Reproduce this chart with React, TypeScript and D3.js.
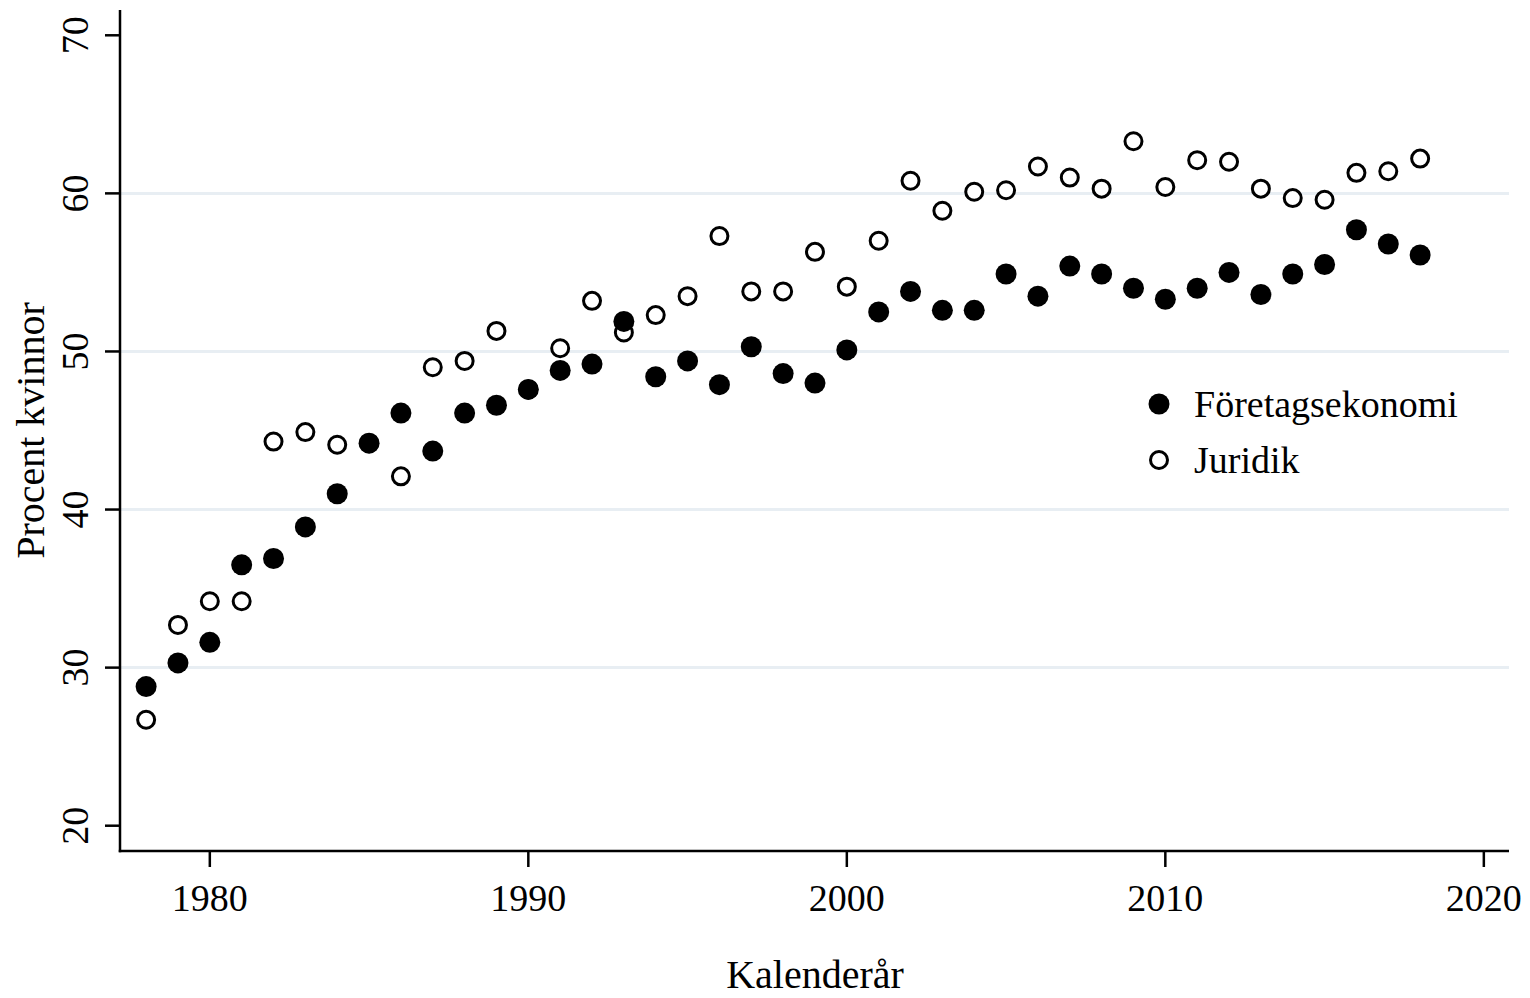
import React from "react";
import * as d3 from "d3";

const years: number[] = [
  1978, 1979, 1980, 1981, 1982, 1983, 1984, 1985, 1986, 1987, 1988, 1989, 1990,
  1991, 1992, 1993, 1994, 1995, 1996, 1997, 1998, 1999, 2000, 2001, 2002, 2003,
  2004, 2005, 2006, 2007, 2008, 2009, 2010, 2011, 2012, 2013, 2014, 2015, 2016,
  2017, 2018,
];

const foretagsekonomi: number[] = [
  28.8, 30.3, 31.6, 36.5, 36.9, 38.9, 41.0, 44.2, 46.1, 43.7, 46.1, 46.6, 47.6,
  48.8, 49.2, 51.9, 48.4, 49.4, 47.9, 50.3, 48.6, 48.0, 50.1, 52.5, 53.8, 52.6,
  52.6, 54.9, 53.5, 55.4, 54.9, 54.0, 53.3, 54.0, 55.0, 53.6, 54.9, 55.5, 57.7,
  56.8, 56.1,
];

const juridik: number[] = [
  26.7, 32.7, 34.2, 34.2, 44.3, 44.9, 44.1, 44.2, 42.1, 49.0, 49.4, 51.3, 47.6,
  50.2, 53.2, 51.2, 52.3, 53.5, 57.3, 53.8, 53.8, 56.3, 54.1, 57.0, 60.8, 58.9,
  60.1, 60.2, 61.7, 61.0, 60.3, 63.3, 60.4, 62.1, 62.0, 60.3, 59.7, 59.6, 61.3,
  61.4, 62.2,
];

const seriesNames: string[] = ["Företagsekonomi", "Juridik"];
const xTicks: number[] = [1980, 1990, 2000, 2010, 2020];
const yTicks: number[] = [20, 30, 40, 50, 60, 70];
const gridValues: number[] = [30, 40, 50, 60];
const xTitle = "Kalenderår";
const yTitle = "Procent kvinnor";

const W = 1530;
const H = 998;
const FONT = "'Liberation Serif', 'Times New Roman', serif";

export default function App() {
  const left = 120;
  const right = 1509;
  const top = 10;
  const bottom = 851;

  const x = d3.scaleLinear().domain([1977.18, 2020.79]).range([left, right]);
  const y = d3.scaleLinear().domain([18.4, 71.6]).range([bottom, top]);

  const rFilled = 10.5;
  const rHollow = 8.5;

  return (
    <svg
      width={W}
      height={H}
      style={{ position: "absolute", left: 0, top: 0, background: "#fff" }}
      fontFamily={FONT}
    >
      <rect x={0} y={0} width={W} height={H} fill="#fff" />
      {/* gridlines */}
      {gridValues.map((v) => (
        <line
          key={"g" + v}
          x1={left}
          x2={right}
          y1={y(v)}
          y2={y(v)}
          stroke="#e8eef3"
          strokeWidth={3}
        />
      ))}

      {/* axes */}
      <line x1={left} x2={left} y1={top} y2={bottom + 1.25} stroke="#000" strokeWidth={2.5} />
      <line x1={left - 1.25} x2={right} y1={bottom} y2={bottom} stroke="#000" strokeWidth={2.5} />

      {yTicks.map((v) => (
        <g key={"yt" + v}>
          <line x1={left - 15} x2={left} y1={y(v)} y2={y(v)} stroke="#000" strokeWidth={2.5} />
          <text
            transform={`translate(88,${y(v)}) rotate(-90)`}
            textAnchor="middle"
            fontSize={38}
            fill="#000"
          >
            {v}
          </text>
        </g>
      ))}

      {xTicks.map((v) => (
        <g key={"xt" + v}>
          <line x1={x(v)} x2={x(v)} y1={bottom} y2={bottom + 16} stroke="#000" strokeWidth={2.5} />
          <text x={x(v)} y={911} textAnchor="middle" fontSize={38} fill="#000">
            {v}
          </text>
        </g>
      ))}

      <text
        transform={`translate(44,${(top + bottom) / 2}) rotate(-90)`}
        textAnchor="middle"
        fontSize={40}
        fill="#000"
      >
        {yTitle}
      </text>
      <text x={815} y={988} textAnchor="middle" fontSize={40} fill="#000">
        {xTitle}
      </text>

      {/* Juridik (hollow) drawn first */}
      {years.map((yr, i) => (
        <circle
          key={"j" + yr}
          cx={x(yr)}
          cy={y(juridik[i])}
          r={rHollow}
          fill="#fff"
          stroke="#000"
          strokeWidth={3}
        />
      ))}
      {/* Företagsekonomi (filled) */}
      {years.map((yr, i) => (
        <circle key={"f" + yr} cx={x(yr)} cy={y(foretagsekonomi[i])} r={rFilled} fill="#000" />
      ))}

      {/* legend */}
      {seriesNames.map((name, i) => {
        const cy = 404 + i * 56;
        return (
          <g key={"lg" + name}>
            {i === 0 ? (
              <circle cx={1159} cy={cy} r={rFilled} fill="#000" />
            ) : (
              <circle cx={1159} cy={cy} r={rHollow} fill="#fff" stroke="#000" strokeWidth={3} />
            )}
            <text x={1194} y={cy + 13} fontSize={38} fill="#000">
              {name}
            </text>
          </g>
        );
      })}
    </svg>
  );
}
